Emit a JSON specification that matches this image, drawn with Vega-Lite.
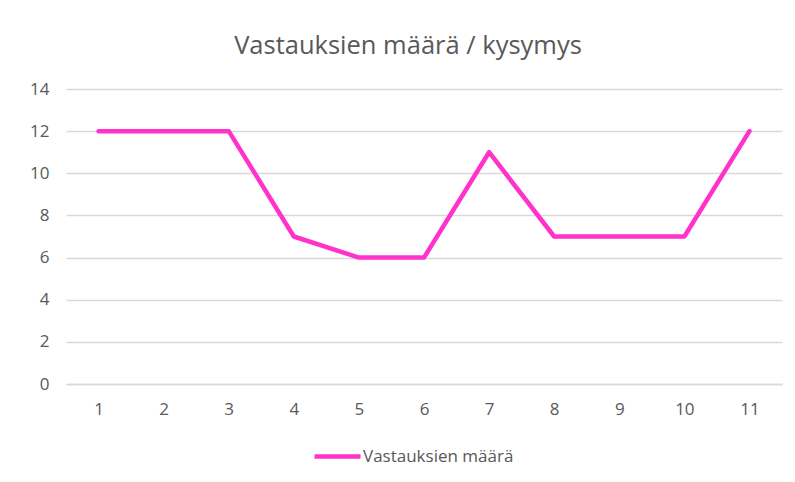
{
  "$schema": "https://vega.github.io/schema/vega-lite/v6.json",
  "autosize": {"type": "none"},
  "width": 716,
  "height": 295,
  "padding": {"left": 66, "top": 89, "right": 13, "bottom": 98},
  "background": "white",
  "title": {
    "text": "Vastauksien määrä / kysymys",
    "font": "Open Sans",
    "fontSize": 25.5,
    "fontWeight": "normal",
    "color": "#595959",
    "anchor": "middle",
    "dx": -16,
    "baseline": "alphabetic",
    "offset": 1
  },
  "data": {
    "values": [
      {"kysymys": "1", "maara": 12, "sarja": "Vastauksien määrä"},
      {"kysymys": "2", "maara": 12, "sarja": "Vastauksien määrä"},
      {"kysymys": "3", "maara": 12, "sarja": "Vastauksien määrä"},
      {"kysymys": "4", "maara": 7, "sarja": "Vastauksien määrä"},
      {"kysymys": "5", "maara": 6, "sarja": "Vastauksien määrä"},
      {"kysymys": "6", "maara": 6, "sarja": "Vastauksien määrä"},
      {"kysymys": "7", "maara": 11, "sarja": "Vastauksien määrä"},
      {"kysymys": "8", "maara": 7, "sarja": "Vastauksien määrä"},
      {"kysymys": "9", "maara": 7, "sarja": "Vastauksien määrä"},
      {"kysymys": "10", "maara": 7, "sarja": "Vastauksien määrä"},
      {"kysymys": "11", "maara": 12, "sarja": "Vastauksien määrä"}
    ]
  },
  "mark": {"type": "line", "strokeWidth": 4.5, "strokeCap": "round", "strokeJoin": "round"},
  "encoding": {
    "x": {
      "field": "kysymys",
      "type": "ordinal",
      "sort": null,
      "scale": {"type": "point", "padding": 0.5},
      "axis": {
        "title": null,
        "labelAngle": 0,
        "ticks": false,
        "domain": true,
        "domainColor": "#D9D9D9",
        "domainWidth": 1.5,
        "grid": false,
        "labelPadding": 17,
        "labelFont": "Open Sans",
        "labelFontSize": 17,
        "labelColor": "#595959"
      }
    },
    "y": {
      "field": "maara",
      "type": "quantitative",
      "scale": {"domain": [0, 14], "nice": false},
      "axis": {
        "title": null,
        "values": [0, 2, 4, 6, 8, 10, 12, 14],
        "ticks": false,
        "domain": false,
        "grid": true,
        "gridColor": "#D9D9D9",
        "gridWidth": 1.5,
        "labelPadding": 17,
        "labelFont": "Open Sans",
        "labelFontSize": 17,
        "labelColor": "#595959"
      }
    },
    "color": {
      "field": "sarja",
      "type": "nominal",
      "scale": {"range": ["#FF33CC"]},
      "legend": {
        "title": null,
        "orient": "none",
        "legendX": 246,
        "legendY": 342,
        "padding": 0,
        "symbolType": "stroke",
        "symbolSize": 2116,
        "symbolStrokeWidth": 4.5,
        "labelOffset": 0,
        "labelFont": "Open Sans",
        "labelFontSize": 17,
        "labelColor": "#595959"
      }
    }
  },
  "config": {
    "view": {"stroke": null}
  }
}
